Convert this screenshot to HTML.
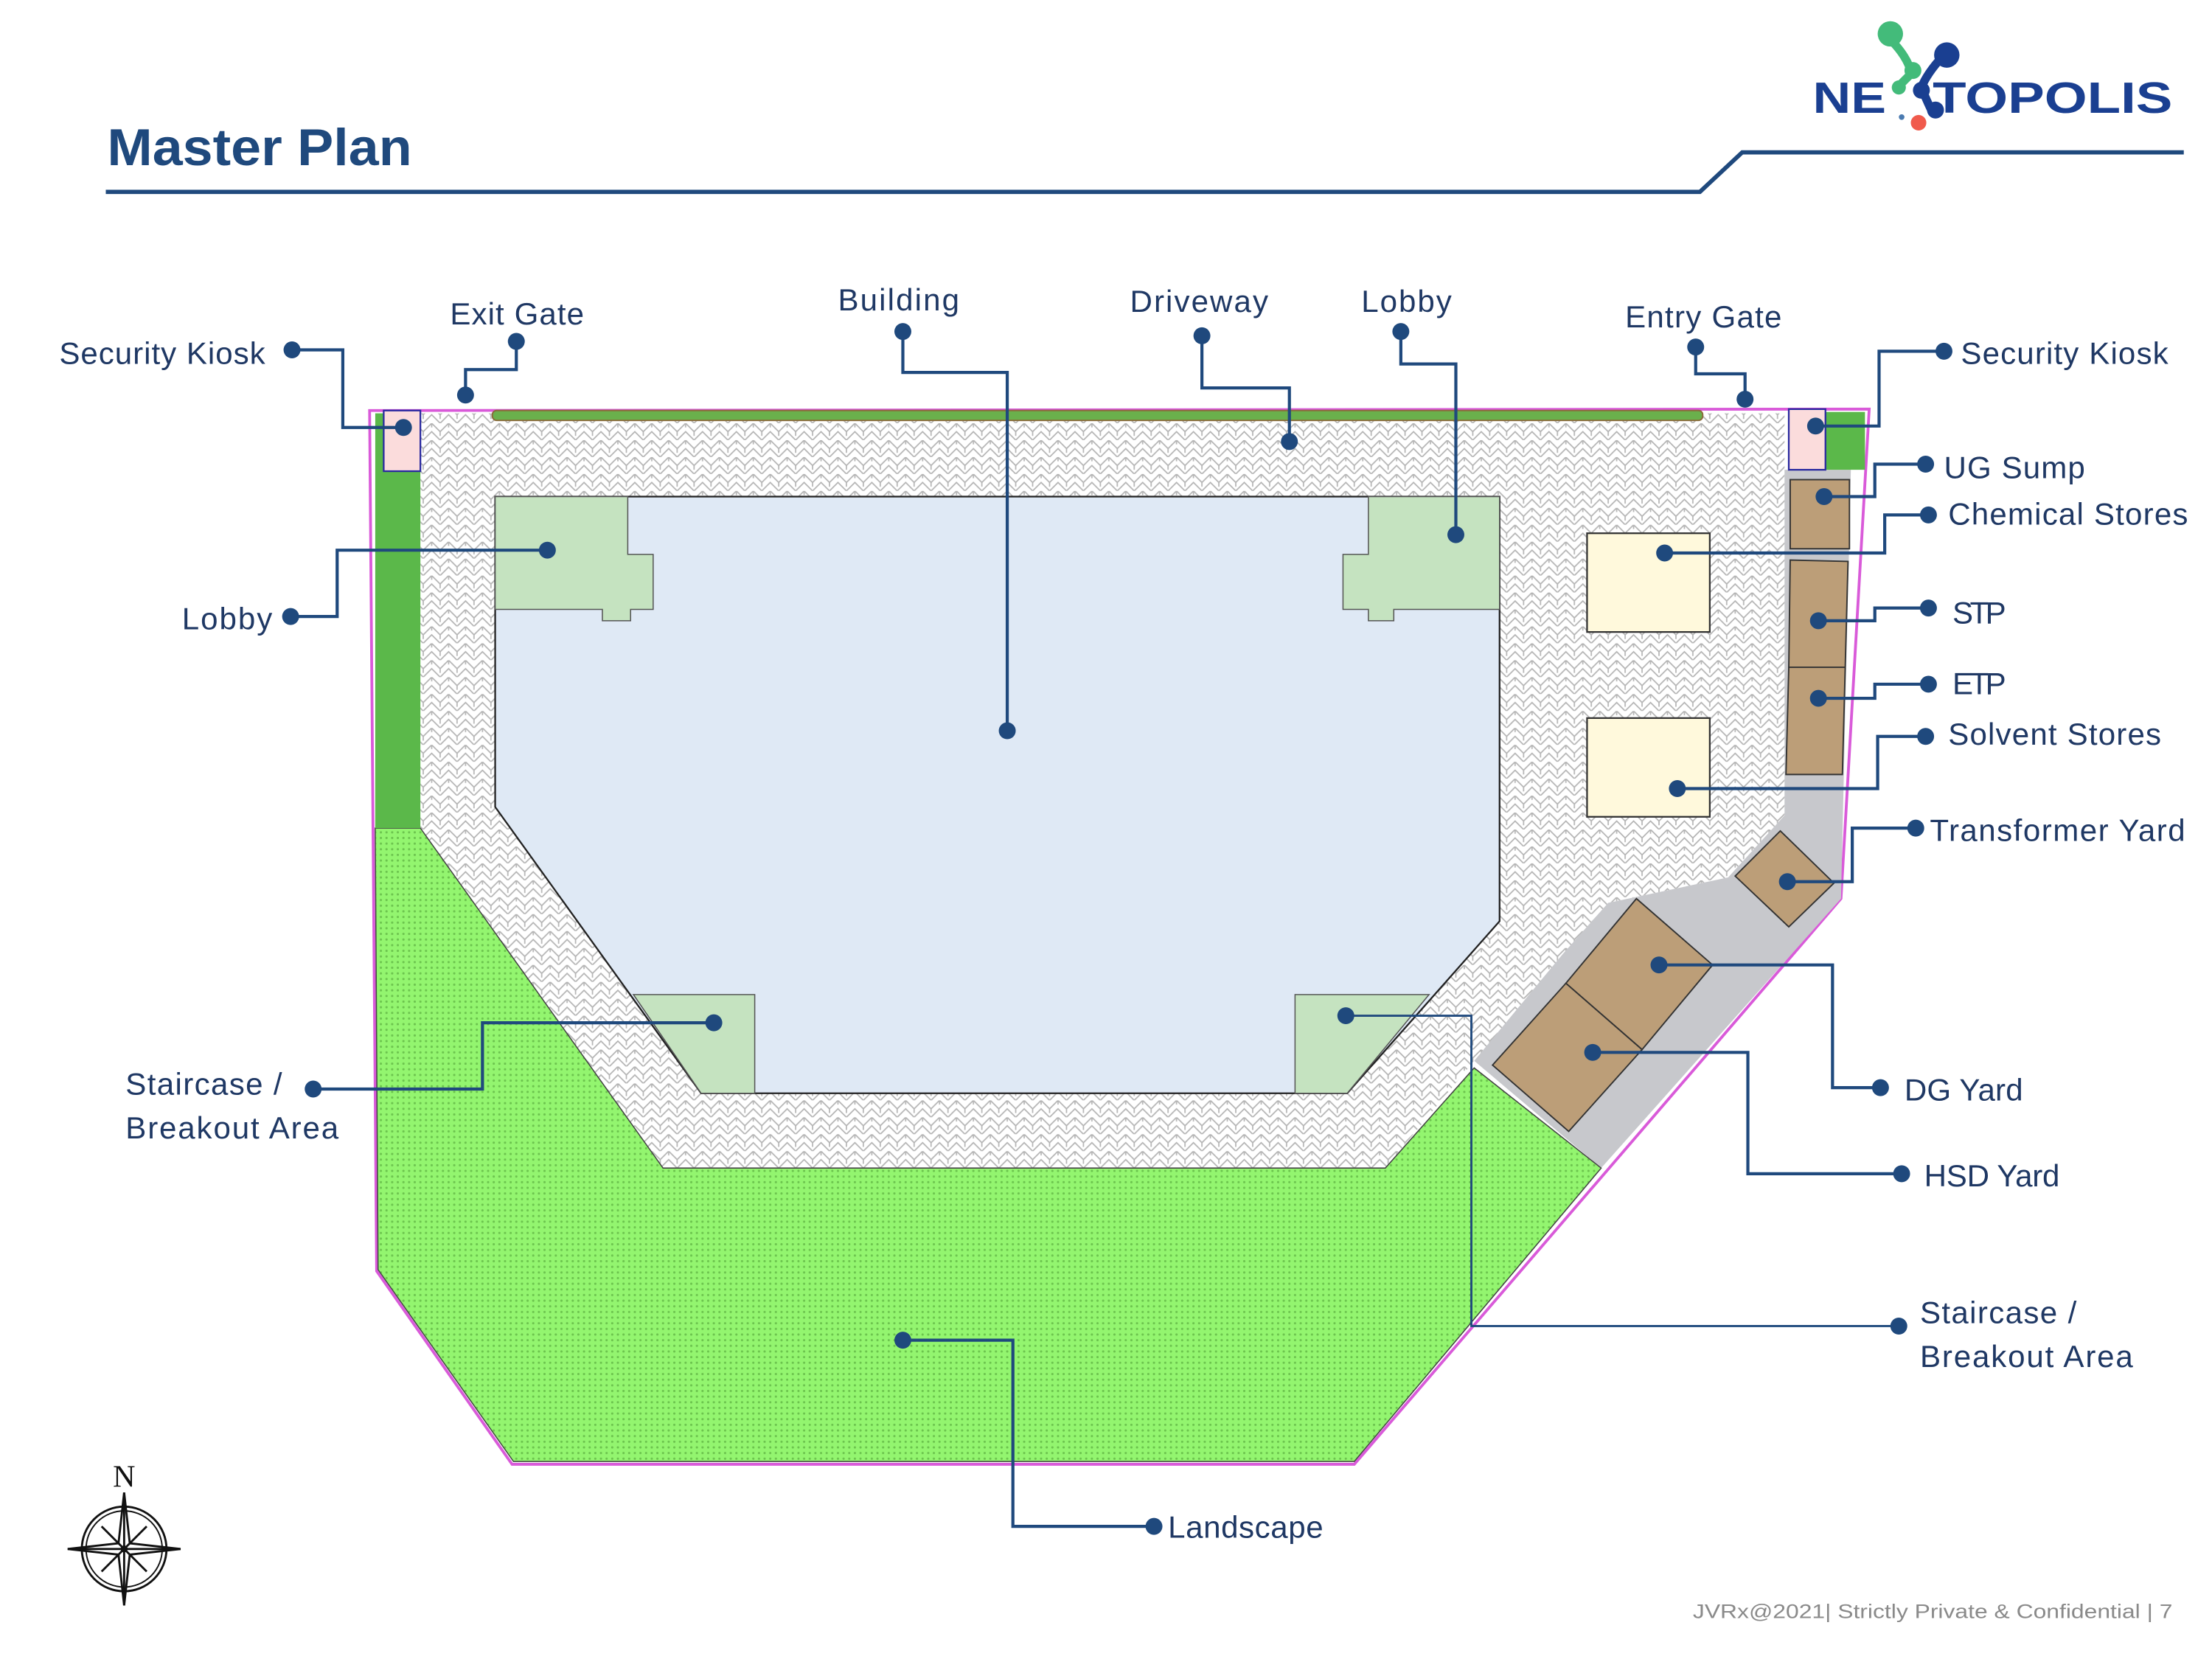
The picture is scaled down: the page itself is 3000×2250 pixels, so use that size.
<!DOCTYPE html>
<html><head><meta charset="utf-8">
<style>html,body{margin:0;padding:0;background:#fff}svg{display:block}</style>
</head><body>
<svg xmlns="http://www.w3.org/2000/svg" width="3000" height="2250" viewBox="0 0 1568 1176" font-family="Liberation Sans, sans-serif">
<defs>
<pattern id="hb" width="12" height="12" patternUnits="userSpaceOnUse">
<rect width="12" height="12" fill="#fff"/>
<path d="M0 6 L6 0 L12 6 M0 12 L6 6 L12 12 M6 0 L6 3 M0 6 L0 9 M12 6 L12 9" stroke="#b5b5b5" stroke-width="0.9" fill="none"/>
</pattern>
<pattern id="gd" width="4" height="4" patternUnits="userSpaceOnUse">
<rect width="4" height="4" fill="#93f56f"/>
<circle cx="2" cy="2" r="0.8" fill="#6cc44e"/>
</pattern>
</defs>

<!-- title -->
<text x="76" y="117" font-size="37" font-weight="bold" fill="#1f497d" textLength="216" lengthAdjust="spacingAndGlyphs">Master Plan</text>
<polyline points="75,136 1205,136 1235,108 1548,108" fill="none" stroke="#1f497d" stroke-width="3"/>

<!-- logo -->
<g>
<path d="M1340 28 Q1352 40 1355 52 L1347 60" stroke="#43bb7a" stroke-width="6" fill="none"/>
<circle cx="1340" cy="24" r="9" fill="#43bb7a"/>
<circle cx="1356" cy="50" r="6" fill="#43bb7a"/>
<circle cx="1346" cy="62" r="5" fill="#43bb7a"/>
<path d="M1377 40 Q1366 52 1362 62 Q1366 72 1370 80" stroke="#1a3f91" stroke-width="6" fill="none"/>
<circle cx="1380" cy="39" r="9" fill="#1a3f91"/>
<circle cx="1362" cy="64" r="6" fill="#1a3f91"/>
<circle cx="1372" cy="78" r="6" fill="#1a3f91"/>
<circle cx="1348" cy="83" r="2" fill="#4a7ab0"/>
<circle cx="1360" cy="87" r="5.5" fill="#f05a4c"/>
<text x="1285" y="80" font-size="31" font-weight="bold" fill="#1a3f91" textLength="52" lengthAdjust="spacingAndGlyphs">NE</text>
<text x="1370" y="80" font-size="31" font-weight="bold" fill="#1a3f91" textLength="170" lengthAdjust="spacingAndGlyphs">TOPOLIS</text>
</g>

<!-- site outline -->
<polygon points="262,291 1325,290 1305,637 960,1038 363,1038 267,901" fill="#fff" stroke="#d95ad9" stroke-width="2"/>
<!-- paving -->
<polygon points="298,293 1265,293 1265,578 1225,622 1140,640 1045,752 982,828 470,828 298,587" fill="url(#hb)"/>
<!-- grey service -->
<polygon points="1265,333 1312,333 1305,637 1135,828 1045,752 1108,676 1140,640 1225,622 1265,578" fill="#c7c8cc"/>
<!-- landscape -->
<polygon points="266,587 298,587 470,828 982,828 1045,757 1135,828 960,1036 364,1036 268,900" fill="url(#gd)" stroke="#444" stroke-width="0.8"/>
<!-- left green strip -->
<rect x="266" y="293" width="32" height="294" fill="#5bb84a"/>
<rect x="1294" y="292" width="28" height="41" fill="#5bb84a"/>
<!-- top green strip -->
<rect x="349" y="291" width="858" height="7" rx="3" fill="#6ab04c" stroke="#8a6a3a" stroke-width="1"/>

<!-- building -->
<polygon points="351,352 1063,352 1063,653 955,775 497,775 351,572" fill="#dfe9f5" stroke="#222" stroke-width="1.2"/>
<polygon points="351,352 445,352 445,393 463,393 463,432 447,432 447,440 427,440 427,432 351,432" fill="#c5e3c0" stroke="#555" stroke-width="0.8"/>
<polygon points="970,352 1063,352 1063,432 988,432 988,440 970,440 970,432 952,432 952,393 970,393" fill="#c5e3c0" stroke="#555" stroke-width="0.8"/>
<polygon points="449,705 535,705 535,775 497,775" fill="#c5e3c0" stroke="#555" stroke-width="0.8"/>
<polygon points="918,705 1013,705 955,775 918,775" fill="#c5e3c0" stroke="#555" stroke-width="0.8"/>

<!-- stores -->
<rect x="1125" y="378" width="87" height="70" fill="#fff9dc" stroke="#333" stroke-width="1.2"/>
<rect x="1125" y="509" width="87" height="70" fill="#fff9dc" stroke="#333" stroke-width="1.2"/>
<!-- kiosks -->
<rect x="272" y="291" width="26" height="43" fill="#fbdcdc" stroke="#2a2aa0" stroke-width="1.2"/>
<rect x="1268" y="290" width="26" height="43" fill="#fbdcdc" stroke="#2a2aa0" stroke-width="1.2"/>
<!-- brown utilities -->
<g fill="#bc9e78" stroke="#333" stroke-width="1">
<rect x="1269" y="340" width="42" height="49"/>
<polygon points="1269,397 1310,398 1308,473 1268,473"/>
<polygon points="1268,473 1308,473 1306,549 1266,549"/>
<polygon points="1262,589 1300,626 1268,657 1230,621"/>
<polygon points="1160,637 1214,684 1164,744 1110,697"/>
<polygon points="1110,697 1164,744 1112,802 1058,755"/>
</g>

<!-- leaders -->
<g fill="none" stroke="#1f497d" stroke-width="2.2">
<polyline points="207,248 243,248 243,303 286,303"/>
<polyline points="366,242 366,262 330,262 330,280"/>
<polyline points="640,235 640,264 714,264 714,518"/>
<polyline points="852,238 852,275 914,275 914,313"/>
<polyline points="993,235 993,258 1032,258 1032,379"/>
<polyline points="1202,246 1202,265 1237,265 1237,283"/>
<polyline points="1378,249 1332,249 1332,302 1287,302"/>
<polyline points="1365,329 1329,329 1329,352 1293,352"/>
<polyline points="1367,365 1336,365 1336,392 1180,392"/>
<polyline points="1367,431 1329,431 1329,440 1289,440"/>
<polyline points="1367,485 1329,485 1329,495 1289,495"/>
<polyline points="1365,522 1331,522 1331,559 1189,559"/>
<polyline points="1358,587 1313,587 1313,625 1267,625"/>
<polyline points="1333,771 1299,771 1299,684 1176,684"/>
<polyline points="1348,832 1239,832 1239,746 1129,746"/>
<polyline points="1346,940 1043,940 1043,720 954,720" stroke-width="1.5"/>
<polyline points="818,1082 718,1082 718,950 640,950"/>
<polyline points="222,772 342,772 342,725 506,725"/>
<polyline points="206,437 239,437 239,390 388,390"/>
</g>
<g fill="#1f497d">
<circle cx="207" cy="248" r="6"/><circle cx="286" cy="303" r="6"/>
<circle cx="366" cy="242" r="6"/><circle cx="330" cy="280" r="6"/>
<circle cx="640" cy="235" r="6"/><circle cx="714" cy="518" r="6"/>
<circle cx="852" cy="238" r="6"/><circle cx="914" cy="313" r="6"/>
<circle cx="993" cy="235" r="6"/><circle cx="1032" cy="379" r="6"/>
<circle cx="1202" cy="246" r="6"/><circle cx="1237" cy="283" r="6"/>
<circle cx="1378" cy="249" r="6"/><circle cx="1287" cy="302" r="6"/>
<circle cx="1365" cy="329" r="6"/><circle cx="1293" cy="352" r="6"/>
<circle cx="1367" cy="365" r="6"/><circle cx="1180" cy="392" r="6"/>
<circle cx="1367" cy="431" r="6"/><circle cx="1289" cy="440" r="6"/>
<circle cx="1367" cy="485" r="6"/><circle cx="1289" cy="495" r="6"/>
<circle cx="1365" cy="522" r="6"/><circle cx="1189" cy="559" r="6"/>
<circle cx="1358" cy="587" r="6"/><circle cx="1267" cy="625" r="6"/>
<circle cx="1333" cy="771" r="6"/><circle cx="1176" cy="684" r="6"/>
<circle cx="1348" cy="832" r="6"/><circle cx="1129" cy="746" r="6"/>
<circle cx="1346" cy="940" r="6"/><circle cx="954" cy="720" r="6"/>
<circle cx="818" cy="1082" r="6"/><circle cx="640" cy="950" r="6"/>
<circle cx="222" cy="772" r="6"/><circle cx="506" cy="725" r="6"/>
<circle cx="206" cy="437" r="6"/><circle cx="388" cy="390" r="6"/>
</g>

<!-- labels -->
<g font-size="22" fill="#1f3864" lengthAdjust="spacingAndGlyphs">
<text x="42" y="258" textLength="146">Security Kiosk</text>
<text x="319" y="230" textLength="95">Exit Gate</text>
<text x="594" y="220" textLength="86">Building</text>
<text x="801" y="221" textLength="98">Driveway</text>
<text x="965" y="221" textLength="64">Lobby</text>
<text x="1152" y="232" textLength="111">Entry Gate</text>
<text x="1390" y="258" textLength="147">Security Kiosk</text>
<text x="1378" y="339" textLength="100">UG Sump</text>
<text x="1381" y="372" textLength="170">Chemical Stores</text>
<text x="1384" y="442" textLength="38">STP</text>
<text x="1384" y="492" textLength="38">ETP</text>
<text x="1381" y="528" textLength="151">Solvent Stores</text>
<text x="1368" y="596" textLength="181">Transformer Yard</text>
<text x="1350" y="780" textLength="84">DG Yard</text>
<text x="1364" y="841" textLength="96">HSD Yard</text>
<text x="1361" y="938" textLength="111">Staircase /</text>
<text x="1361" y="969" textLength="151">Breakout Area</text>
<text x="828" y="1090" textLength="110">Landscape</text>
<text x="89" y="776" textLength="111">Staircase /</text>
<text x="89" y="807" textLength="151">Breakout Area</text>
<text x="129" y="446" textLength="64">Lobby</text>
</g>

<!-- compass -->
<g transform="translate(88,1098)" stroke="#111" fill="none">
<text x="0" y="-44" font-size="22" font-family="Liberation Serif, serif" text-anchor="middle" fill="#111" stroke="none">N</text>
<circle r="30" stroke-width="1.5"/><circle r="27" stroke-width="1"/>
<path d="M0 -40 L4 -4 L40 0 L4 4 L0 40 L-4 4 L-40 0 L-4 -4 Z" fill="#fff" stroke-width="1.5"/>
<path d="M0 -40 L0 40 M-40 0 L40 0 M-16 -16 L16 16 M16 -16 L-16 16" stroke-width="1.5"/>
<circle r="2" fill="#111"/>
</g>

<!-- footer -->
<text x="1200" y="1147" font-size="14" fill="#8a8a8a" textLength="340" lengthAdjust="spacingAndGlyphs">JVRx@2021| Strictly Private &amp; Confidential |   7</text>
</svg>
</body></html>
